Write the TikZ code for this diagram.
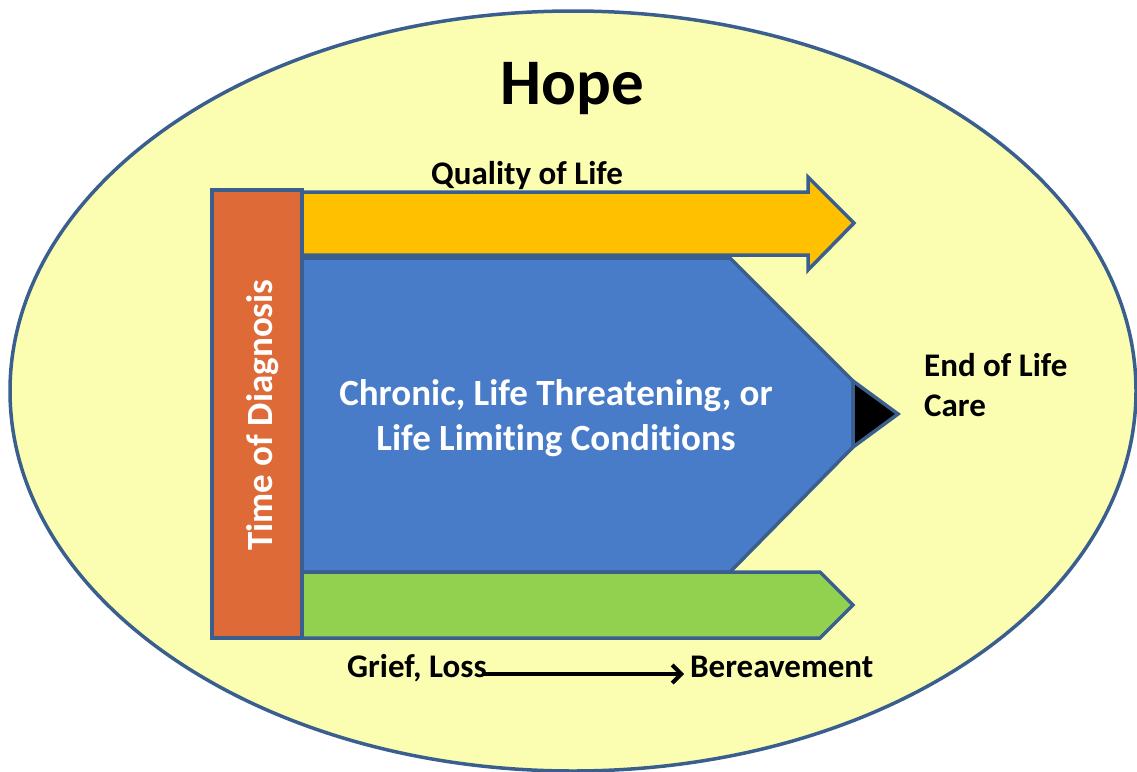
\documentclass[tikz,border=0pt]{standalone}
\usepackage{fontspec}
\setmainfont[RawFeature={-liga;-clig;-dlig}]{Carlito}
\usetikzlibrary{arrows.meta}
\definecolor{edgeblue}{RGB}{58,95,143}
\definecolor{hopefill}{RGB}{251,253,177}
\definecolor{qolfill}{RGB}{255,192,0}
\definecolor{chronfill}{RGB}{72,124,200}
\definecolor{griefill}{RGB}{146,208,80}
\definecolor{diagfill}{RGB}{222,106,56}
\tikzset{
  shapeline/.style={draw=edgeblue, line width=3.5pt, line join=miter},
  lbl/.style={font=\fontsize{33}{40}\selectfont\bfseries, text=black, inner sep=0pt},
}
\begin{document}
\begin{tikzpicture}[x=1pt,y=-1pt]
\useasboundingbox (0,0) rectangle (1137,771);
% Hope ellipse
\draw[shapeline, fill=hopefill] (573,391) ellipse [x radius=563, y radius=380];
% Quality of life arrow
\draw[shapeline, fill=qolfill] (302,192) -- (808,192) -- (808,177) -- (854,223) -- (808,270) -- (808,255) -- (302,255) -- cycle;
% Chronic pentagon
\draw[shapeline, fill=chronfill] (302,258) -- (730,258) -- (853,381) -- (853,447) -- (730,572) -- (302,572) -- cycle;
% End tip
\draw[shapeline, fill=black] (853,381) -- (898,414) -- (853,447) -- cycle;
% Grief arrow
\draw[shapeline, fill=griefill] (302,572) -- (820,572) -- (853,605) -- (820,638) -- (302,638) -- cycle;
% Time of diagnosis bar
\draw[shapeline, fill=diagfill] (212,190) rectangle (302,638);
% Texts
\node[anchor=base, inner sep=0pt, font=\fontsize{65}{78}\selectfont\bfseries] (hope) at (572,104) {Hope};
\node[lbl, anchor=base] (qol) at (527,184) {Quality of Life};
\node[anchor=base, inner sep=0pt, text=white, align=center, font=\fontsize{37}{45}\selectfont\bfseries] (chron) at (556,450) {Chronic, Life Threatening, or\\Life Limiting Conditions};
\node[anchor=base, inner sep=0pt, text=white, rotate=90, font=\fontsize{37}{45}\selectfont\bfseries] (diag) at (272,415) {Time of Diagnosis};
\node[lbl, anchor=base west, align=left] (eol) at (924,416) {End of Life\\Care};
\node[lbl, anchor=base west] (grief) at (347,677) {Grief, Loss};
\node[lbl, anchor=base west] (bereave) at (690,677) {Bereavement};
\draw[line width=4pt, -{Straight Barb[length=9pt,width=18pt]}] ([xshift=-3pt,yshift=3pt]grief.base east) -- ([xshift=-6pt,yshift=3pt]bereave.base west);
\end{tikzpicture}
\end{document}
